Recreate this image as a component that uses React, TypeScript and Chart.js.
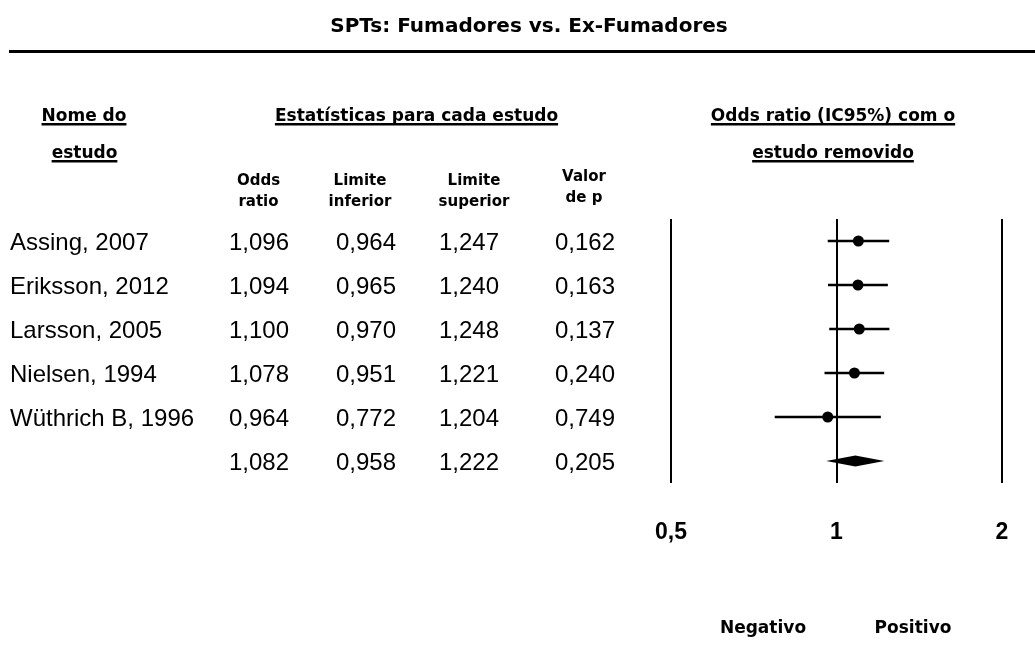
import React, { useEffect, useRef } from "react";
import { Chart, registerables } from "chart.js";

Chart.register(...registerables);

// ---------- data ----------
const chartTitle = "SPTs: Fumadores vs. Ex-Fumadores";
const studyNames = ["Assing, 2007", "Eriksson, 2012", "Larsson, 2005", "Nielsen, 1994", "Wüthrich B, 1996", ""];
const oddsRatio = [1.096, 1.094, 1.1, 1.078, 0.964, 1.082];
const lowerLimit = [0.964, 0.965, 0.97, 0.951, 0.772, 0.958];
const upperLimit = [1.247, 1.24, 1.248, 1.221, 1.204, 1.222];
const pValue = [0.162, 0.163, 0.137, 0.24, 0.749, 0.205];
const summaryRow = 5;
const xTickValues = [0.5, 1, 2];
const xTickLabels = ["0,5", "1", "2"];
const columnHeaders = [
  ["Odds", "ratio"],
  ["Limite", "inferior"],
  ["Limite", "superior"],
  ["Valor", "de p"],
];
const sectionHeaders = ["Nome do", "estudo", "Estatísticas para cada estudo", "Odds ratio (IC95%) com o", "estudo removido"];
const directionLabels = ["Negativo", "Positivo"];

const fmt = (v: number) => v.toFixed(3).replace(".", ",");

const HEAD_FONT = '"DejaVu Sans", Verdana, sans-serif';
const BODY_FONT = '"Liberation Sans", Arial, sans-serif';

function text(
  ctx: CanvasRenderingContext2D,
  s: string,
  x: number,
  y: number,
  font: string,
  align: CanvasTextAlign = "center",
  underline = false
) {
  ctx.font = font;
  ctx.textAlign = align;
  ctx.textBaseline = "alphabetic";
  ctx.fillStyle = "#000";
  ctx.fillText(s, x, y);
  if (underline) {
    const w = ctx.measureText(s).width;
    let x0 = x;
    if (align === "center") x0 = x - w / 2;
    else if (align === "right") x0 = x - w;
    ctx.fillRect(x0, y + 2, w, 2.5);
  }
}

const forestPlugin = {
  id: "forestPlugin",
  beforeDatasetsDraw(chart: any) {
    const ctx: CanvasRenderingContext2D = chart.ctx;
    const xs = chart.scales.x;
    const ys = chart.scales.y;
    const area = chart.chartArea;
    ctx.save();
    // vertical reference lines
    ctx.strokeStyle = "#000";
    ctx.lineWidth = 2;
    xTickValues.forEach((v) => {
      const px = Math.round(xs.getPixelForValue(v));
      ctx.beginPath();
      ctx.moveTo(px, area.top);
      ctx.lineTo(px, area.bottom);
      ctx.stroke();
    });
    // confidence intervals
    ctx.lineWidth = 2.5;
    oddsRatio.forEach((_, i) => {
      if (i === summaryRow) return;
      const py = ys.getPixelForValue(i);
      ctx.beginPath();
      ctx.moveTo(xs.getPixelForValue(lowerLimit[i]), py);
      ctx.lineTo(xs.getPixelForValue(upperLimit[i]), py);
      ctx.stroke();
    });
    // summary diamond
    const sy = ys.getPixelForValue(summaryRow);
    ctx.fillStyle = "#000";
    ctx.beginPath();
    ctx.moveTo(xs.getPixelForValue(lowerLimit[summaryRow]), sy);
    ctx.lineTo(xs.getPixelForValue(oddsRatio[summaryRow]), sy - 5.5);
    ctx.lineTo(xs.getPixelForValue(upperLimit[summaryRow]), sy);
    ctx.lineTo(xs.getPixelForValue(oddsRatio[summaryRow]), sy + 5.5);
    ctx.closePath();
    ctx.fill();
    ctx.restore();
  },
  afterDraw(chart: any) {
    const ctx: CanvasRenderingContext2D = chart.ctx;
    const xs = chart.scales.x;
    const ys = chart.scales.y;
    ctx.save();
    // title and rule
    text(ctx, chartTitle, 529, 32, `bold 20px ${HEAD_FONT}`);
    ctx.fillStyle = "#000";
    ctx.fillRect(9, 50, 1026, 3);
    // section headers
    const hf = `bold 17px ${HEAD_FONT}`;
    text(ctx, sectionHeaders[0], 84, 121, hf, "center", true);
    text(ctx, sectionHeaders[1], 84.5, 158, hf, "center", true);
    text(ctx, sectionHeaders[2], 416.5, 121, hf, "center", true);
    text(ctx, sectionHeaders[3], 833, 121, hf, "center", true);
    text(ctx, sectionHeaders[4], 833, 158, hf, "center", true);
    // column sub-headers
    const sf = `bold 15px ${HEAD_FONT}`;
    const subX = [258.5, 360, 474, 584];
    const subY = [
      [185, 205.5],
      [185, 205.5],
      [185, 205.5],
      [181, 201.5],
    ];
    columnHeaders.forEach((lines, c) => {
      text(ctx, lines[0], subX[c], subY[c][0], sf);
      text(ctx, lines[1], subX[c], subY[c][1], sf);
    });
    // table rows
    const bf = `24px ${BODY_FONT}`;
    const colX = [259, 366, 469, 585];
    studyNames.forEach((name, i) => {
      const by = ys.getPixelForValue(i) + 8.5;
      if (name) text(ctx, name, 10, by, bf, "left");
      text(ctx, fmt(oddsRatio[i]), colX[0], by, bf);
      text(ctx, fmt(lowerLimit[i]), colX[1], by, bf);
      text(ctx, fmt(upperLimit[i]), colX[2], by, bf);
      text(ctx, fmt(pValue[i]), colX[3], by, bf);
    });
    // x tick labels
    xTickValues.forEach((v, i) => {
      text(ctx, xTickLabels[i], xs.getPixelForValue(v), 539, `bold 23px ${BODY_FONT}`);
    });
    // direction labels
    text(ctx, directionLabels[0], 763, 633, hf);
    text(ctx, directionLabels[1], 913, 633, hf);
    ctx.restore();
  },
};

export default function App() {
  const ref = useRef<HTMLCanvasElement | null>(null);
  useEffect(() => {
    document.body.style.margin = "0";
    document.body.style.background = "#fff";
    if (!ref.current) return;
    const chart = new Chart(ref.current, {
      type: "scatter",
      data: {
        datasets: [
          {
            label: "Odds ratio",
            data: oddsRatio
              .map((v, i) => ({ x: v, y: i }))
              .filter((_, i) => i !== summaryRow),
            backgroundColor: "#000",
            borderColor: "#000",
            borderWidth: 0,
            pointRadius: 5.5,
            pointHoverRadius: 5.5,
          },
        ],
      },
      options: {
        animation: false,
        responsive: true,
        maintainAspectRatio: false,
        events: [],
        layout: { padding: { left: 671, right: 33, top: 219, bottom: 178 } },
        plugins: {
          legend: { display: false },
          tooltip: { enabled: false },
          title: { display: false },
        },
        scales: {
          x: { type: "logarithmic", min: 0.5, max: 2, display: false },
          y: { type: "linear", min: -0.5, max: 5.5, reverse: true, display: false },
        },
      },
      plugins: [forestPlugin],
    });
    return () => chart.destroy();
  }, []);
  return (
    <div style={{ width: 1035, height: 661, position: "relative", background: "#fff" }}>
      <canvas ref={ref} />
    </div>
  );
}
